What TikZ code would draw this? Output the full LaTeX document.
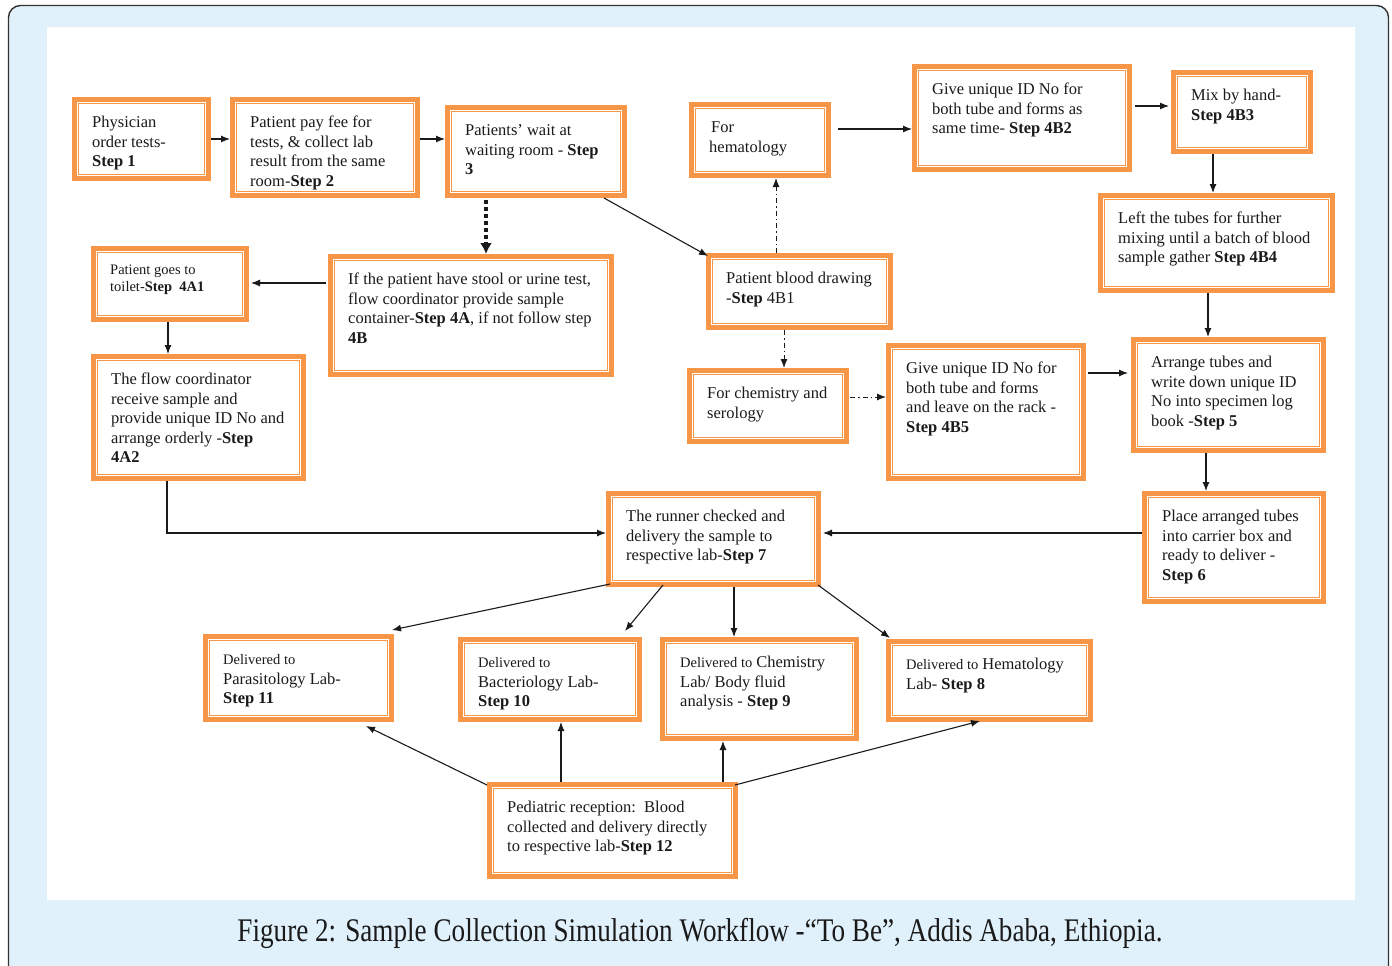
\documentclass[tikz,border=0pt]{standalone}
\usepackage{fontspec}
\setmainfont{Liberation Serif}
\usetikzlibrary{arrows.meta,calc}
\definecolor{boxorange}{HTML}{F79646}
\definecolor{panelblue}{HTML}{E1F1FB}
\definecolor{ink}{HTML}{1A1A1A}
\newcommand\mainsz{\fontsize{16.5}{19.5}\selectfont}
\newcommand\smallsz{\fontsize{14.5}{19.5}\selectfont}
\tikzset{
  flowbox/.style={draw=boxorange, line width=5pt, fill=white, inner sep=0pt,
    outer sep=2.5pt, anchor=north west,
    path picture={\draw[boxorange, line width=1pt]
      ([shift={(4pt,4pt)}]path picture bounding box.south west) rectangle
      ([shift={(-4pt,-4pt)}]path picture bounding box.north east);}},
  boxtext/.style={anchor=north west, inner sep=0pt, align=left, text=ink, font=\mainsz},
  arr/.style={draw=ink, line width=1.1pt, -{Latex[length=9pt,width=7pt]}},
  dotarr/.style={draw=ink, line width=3.6pt, dash pattern=on 3.6pt off 3.4pt,
    -{Latex[length=11pt,width=12pt]}},
  dasharr/.style={draw=ink, line width=1pt, dash pattern=on 5pt off 3pt on 1.5pt off 3pt,
    -{Latex[length=9pt,width=7pt]}},
}
% box: name, left, top, path width, path height, text
\newcommand\flowstep[6]{%
  \node[flowbox, minimum width=#4pt, minimum height=#5pt] (#1) at (#2,#3) {};
  \node[boxtext] (#1-t) at ($(#1.north west)+(20,17)$) {\strut#6};
}
\begin{document}
\begin{tikzpicture}[x=1pt,y=-1pt]
\useasboundingbox (0,0) rectangle (1392,966);
% page panel and white drawing area
\draw[fill=panelblue, draw=black!80, line width=1.4pt, rounded corners=12pt]
  (8.5,5.5) rectangle (1388.5,990);
\fill[white] (47,27) rectangle (1355,900);

% first row
\flowstep{s1}{72}{97}{134}{79}{Physician\\order tests-\\\textbf{Step 1}}
\flowstep{s2}{230}{97}{185}{96}{Patient pay fee for\\tests, \& collect lab\\result from the same\\room-\textbf{Step 2}}
\flowstep{s3}{445}{105}{177}{88}{Patients’ wait at\\waiting room - \textbf{Step}\\\textbf{3}}
\flowstep{hem}{689}{102}{137}{71}{\hspace{2pt}For\\hematology}
\flowstep{b2}{912}{64}{215}{103}{Give unique ID No for\\both tube and forms as\\same time- \textbf{Step 4B2}}
\flowstep{b3}{1171}{70}{137}{79}{Mix by hand-\\\textbf{Step 4B3}}
\flowstep{b4}{1098}{193}{232}{95}{Left the tubes for further\\mixing until a batch of blood\\sample gather \textbf{Step 4B4}}

% urine / stool branch
\node[flowbox, minimum width=153pt, minimum height=71pt] (a1) at (91,246) {};
\node[boxtext, font=\fontsize{14.5}{17}\selectfont] (a1-t) at ($(a1.north west)+(19,16)$)
  {\strut Patient\ goes\ to\\toilet-\textbf{Step\ \ 4A1}};
\flowstep{s4a}{328}{254}{281}{118}{If the patient have stool or urine test,\\flow coordinator provide sample\\container-\textbf{Step 4A}, if not follow step\\\textbf{4B}}
\flowstep{a2}{91}{354}{210}{122}{The flow coordinator\\receive sample and\\provide unique ID No and\\arrange orderly -\textbf{Step}\\\textbf{4A2}}

% blood branch
\flowstep{b1}{706}{253}{182}{72}{Patient blood drawing\\-\textbf{Step} 4B1}
\flowstep{chem}{687}{368}{157}{71}{For chemistry and\\serology}
\flowstep{b5}{886}{343}{195}{133}{Give unique ID No for\\both tube and forms\\and leave on the rack -\\\textbf{Step 4B5}}
\flowstep{s5}{1131}{337}{190}{111}{Arrange tubes and\\write down unique ID\\No into specimen log\\book -\textbf{Step 5}}
\flowstep{s6}{1142}{491}{179}{108}{Place arranged tubes\\into carrier box and\\ready to deliver -\\\textbf{Step 6}}
\flowstep{s7}{606}{491}{210}{91}{The runner checked and\\delivery the sample to\\respective lab-\textbf{Step 7}}

% laboratories
\flowstep{l11}{203}{634}{186}{83}{{\smallsz Delivered\ to}\\Parasitology Lab-\\\textbf{Step 11}}
\flowstep{l10}{458}{637}{179}{80}{{\smallsz Delivered\ to}\\Bacteriology Lab-\\\textbf{Step 10}}
\flowstep{l9}{660}{637}{194}{99}{{\smallsz Delivered\ to} Chemistry\\Lab/ Body fluid\\analysis - \textbf{Step 9}}
\flowstep{l8}{886}{639}{202}{78}{{\smallsz Delivered\ to} Hematology\\Lab- \textbf{Step 8}}
\flowstep{s12}{487}{782}{246}{92}{Pediatric reception:\ \ Blood\\collected and delivery directly\\to respective lab-\textbf{Step 12}}

% connectors
\draw[arr] ($(s1.north east)+(0,42)$) -- ($(s2.north west)+(0,42)$);
\draw[arr] ($(s2.north east)+(0,42)$) -- ($(s3.north west)+(0,34)$);
\draw[dotarr] ($(s3.south west)+(41,2)$) -- ($(s4a.north west)+(41+117,0)$);
\draw[arr] ($(s3.south west)+(159,0)$) -- ($(b1.north west)+(2,3)$);
\draw[dasharr] ($(b1.north west)+(70,0)$) -- ($(hem.south west)+(87,0)$);
\draw[arr] ($(hem.north east)+(7,27)$) -- ($(b2.north west)+(0,65)$);
\draw[arr] ($(b2.north east)+(3,42)$) -- ($(b3.north west)+(-2,36)$);
\draw[arr] ($(b3.south west)+(42,0)$) -- ($(b4.north west)+(115,0)$);
\draw[arr] ($(s4a.north west)+(-2,29)$) -- ($(a1.north east)+(2,37)$);
\draw[arr] ($(a1.south west)+(77,0)$) -- ($(a2.north west)+(77,0)$);
\draw[dasharr] ($(b1.south west)+(78,0)$) -- ($(chem.north west)+(97,0)$);
\draw[dasharr] ($(chem.north east)+(1,29)$) -- ($(b5.north west)+(0,54)$);
\draw[arr] ($(b5.north east)+(2,30)$) -- ($(s5.north west)+(-3,36)$);
\draw[arr] ($(b4.south west)+(110,0)$) -- ($(s5.north west)+(77,0)$);
\draw[arr] ($(s5.south west)+(75,0)$) -- ($(s6.north west)+(64,0)$);
\draw[arr] ($(s6.north west)+(0,42)$) -- ($(s7.north east)+(2,42)$);
\draw[arr] ($(a2.south west)+(76,0)$) |- ($(s7.north west)+(0,42)$);
\draw[arr] ($(s7.south west)+(4,-3)$) -- ($(l11.north east)+(-2,-4)$);
\draw[arr] ($(s7.south west)+(57,-2)$) -- ($(l10.north west)+(167,-6)$);
\draw[arr] ($(s7.south west)+(128,0)$) -- ($(l9.north west)+(74,0)$);
\draw[arr] ($(s7.south east)+(-3,-2)$) -- ($(l8.north west)+(4,-1)$);
\draw[arr] ($(s12.north west)+(0,3)$) -- ($(l11.south east)+(-28,4)$);
\draw[arr] ($(s12.north west)+(74,0)$) -- ($(l10.south west)+(103,0)$);
\draw[arr] ($(s12.north west)+(236,0)$) -- ($(l9.south west)+(63,0)$);
\draw[arr] ($(s12.north east)+(-3,3)$) -- ($(l8.south west)+(94,-1)$);

% caption
\node[anchor=base, inner sep=0pt, text=ink] (caption) at (700,941)
  {\resizebox{925pt}{\height}{\fontsize{33}{36}\selectfont Figure 2: Sample Collection Simulation Workflow -“To Be”, Addis Ababa, Ethiopia.}};
\end{tikzpicture}
\end{document}
